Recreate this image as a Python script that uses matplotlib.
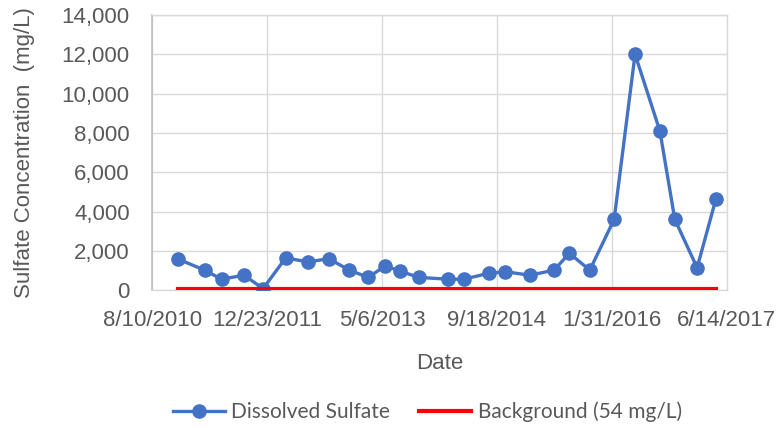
import matplotlib
matplotlib.use("Agg")
import matplotlib.pyplot as plt
import pandas as pd

# sample dates and dissolved sulfate (mg/L)
dates = ["2010-12-02", "2011-03-26", "2011-06-08", "2011-09-14", "2011-12-06",
         "2012-03-13", "2012-06-18", "2012-09-17", "2012-12-15", "2013-03-07",
         "2013-05-21", "2013-07-25", "2013-10-14", "2014-02-16", "2014-04-27",
         "2014-08-14", "2014-10-25", "2015-02-08", "2015-05-25", "2015-07-30",
         "2015-10-27", "2016-02-10", "2016-05-11", "2016-08-27", "2016-10-31",
         "2017-02-05", "2017-04-28"]
sulfate = [1580, 1020, 560, 760, 80,
           1640, 1440, 1600, 1020, 650,
           1240, 960, 650, 560, 560,
           860, 940, 760, 1020, 1880,
           1020, 3600, 12000, 8100, 3600,
           1140, 4650]
background = 54

tick_dates = ["2010-08-10", "2011-12-23", "2013-05-06", "2014-09-18", "2016-01-31", "2017-06-14"]
tick_labels = ["8/10/2010", "12/23/2011", "5/6/2013", "9/18/2014", "1/31/2016", "6/14/2017"]

plt.rcParams["font.family"] = ["Liberation Sans", "DejaVu Sans"]

x = pd.to_datetime(dates)
ticks = pd.to_datetime(tick_dates)
gray = "#595959"
grid = "#d9d9d9"

fig = plt.figure(figsize=(7.84, 4.28), dpi=100)
ax = fig.add_axes([0.194, 0.322, 0.733, 0.643])

ax.plot(x, sulfate, color="#4472C4", lw=2.4, marker="o", ms=9.5,
        label="Dissolved Sulfate", zorder=3)
ax.plot([x[0], x[-1]], [background, background], color="#FF0000", lw=3,
        label="Background (54 mg/L)", zorder=4)

ax.set_xlim(ticks[0], ticks[-1])
ax.set_ylim(0, 14000)
ax.set_xticks(ticks)
ax.set_xticklabels(tick_labels)
ax.set_yticks(range(0, 14001, 2000))
ax.yaxis.set_major_formatter(plt.FuncFormatter(lambda v, p: f"{int(v):,}"))
ax.tick_params(length=0, labelsize=16, labelcolor=gray)
ax.tick_params(axis="x", pad=14)
ax.tick_params(axis="y", pad=16)
ax.grid(True, color=grid, lw=1.0)
ax.set_axisbelow(True)
for s in ["top", "right", "bottom"]:
    ax.spines[s].set_color(grid)
    ax.spines[s].set_linewidth(1.0)
ax.spines["left"].set_color("#bfbfbf")
ax.spines["left"].set_linewidth(1.2)

ax.set_xlabel("Date", fontsize=16, color=gray, labelpad=16)
ax.set_ylabel("Sulfate Concentration  (mg/L)", fontsize=16, color=gray, labelpad=19)

fig.legend(loc="center", bbox_to_anchor=(0.545, 0.037), ncol=2, frameon=False,
           prop={"family": "Lato", "size": 15}, labelcolor=gray,
           handlelength=2.5, columnspacing=1.4, handletextpad=0.3)

fig.savefig("out.png", dpi=100)
